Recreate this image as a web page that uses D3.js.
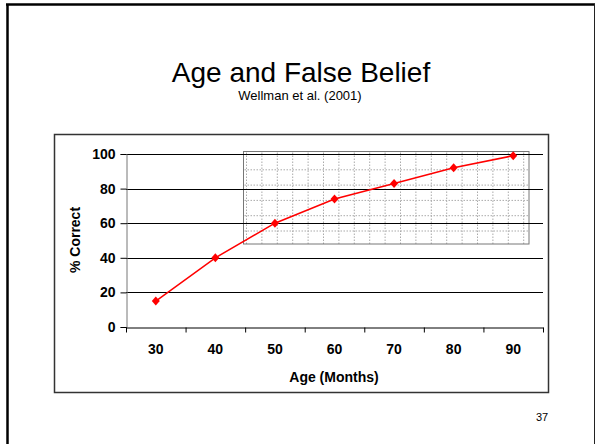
<!DOCTYPE html>
<html>
<head>
<meta charset="utf-8">
<script src="https://cdn.jsdelivr.net/npm/d3@7"></script>
<style>
  body { margin: 0; background: #fff; }
  svg { display: block; font-family: "Liberation Sans", Arial, sans-serif; }
</style>
</head>
<body>
<svg width="596" height="444"></svg>
<script>
// data
var ages = ['30', '40', '50', '60', '70', '80', '90'];
var pctCorrect = [15, 40, 60, 74, 83, 92, 99];
var yTicks = [0, 20, 40, 60, 80, 100];

var svg = d3.select('svg');

// slide frame
svg.append('line').attr('x1', 7.5).attr('y1', 4).attr('x2', 7.5).attr('y2', 444)
  .attr('stroke', '#000').attr('stroke-width', 2.5);
svg.append('line').attr('x1', 6).attr('y1', 4.5).attr('x2', 595).attr('y2', 4.5)
  .attr('stroke', '#000').attr('stroke-width', 2.5);
svg.append('line').attr('x1', 594.5).attr('y1', 4).attr('x2', 594.5).attr('y2', 444)
  .attr('stroke', '#222').attr('stroke-width', 1);

svg.append('text').attr('x', 301).attr('y', 82).attr('text-anchor', 'middle')
  .style('font-size', '28px').text('Age and False Belief');
svg.append('text').attr('x', 300).attr('y', 99.5).attr('text-anchor', 'middle')
  .style('font-size', '13px').text('Wellman et al. (2001)');
svg.append('text').attr('x', 542).attr('y', 421).attr('text-anchor', 'middle')
  .style('font-size', '11px').text('37');

// chart frame
svg.append('rect').attr('x', 54.5).attr('y', 134.5).attr('width', 494).attr('height', 258)
  .attr('fill', 'none').attr('stroke', '#333').attr('stroke-width', 1.5);

var x = d3.scaleBand().domain(ages).range([126, 543]);
var y = d3.scaleLinear().domain([0, 100]).range([327, 154]);

// dotted overlay box
var box = {x0: 243.5, y0: 151.5, x1: 529, y1: 244};
var dots = svg.append('g');
d3.range(box.x0 + 3, box.x1, 15.4).forEach(function(v) {
  dots.append('line').attr('x1', v).attr('x2', v).attr('y1', box.y0 + 1).attr('y2', box.y1)
    .attr('stroke', '#aaa').attr('stroke-dasharray', '1.5,1.5');
});
d3.range(box.y0 + 3, box.y1, 15.3).forEach(function(v) {
  dots.append('line').attr('y1', v).attr('y2', v).attr('x1', box.x0 + 1).attr('x2', box.x1)
    .attr('stroke', '#aaa').attr('stroke-dasharray', '1.5,1.5');
});
svg.append('rect').attr('x', box.x0).attr('y', box.y0)
  .attr('width', box.x1 - box.x0).attr('height', box.y1 - box.y0)
  .attr('fill', 'none').attr('stroke', '#777').attr('stroke-width', 1);

// gridlines
svg.append('g').selectAll('line').data(yTicks.slice(1)).enter().append('line')
  .attr('x1', 126).attr('x2', 543)
  .attr('y1', function(d) { return Math.round(y(d)) + 0.5; })
  .attr('y2', function(d) { return Math.round(y(d)) + 0.5; })
  .attr('stroke', '#000').attr('stroke-width', 1);

// y axis
var yAxis = svg.append('g').attr('transform', 'translate(126.5,0)')
  .call(d3.axisLeft(y).tickValues(yTicks).tickSize(6).tickPadding(5));
yAxis.select('.domain').attr('stroke', '#777');
yAxis.selectAll('text').style('font-size', '14px').style('font-weight', 'bold')
  .style('font-family', '"Liberation Sans", Arial, sans-serif').attr('fill', '#000');

// x axis
var xAxis = svg.append('g').attr('transform', 'translate(0,327.5)')
  .call(d3.axisBottom(x).tickSize(0).tickPadding(17));
xAxis.select('.domain').attr('stroke', '#000');
xAxis.selectAll('text').style('font-size', '14px').style('font-weight', 'bold')
  .style('font-family', '"Liberation Sans", Arial, sans-serif').attr('fill', '#000');
xAxis.selectAll('.sep').data(ages.concat(['end'])).enter().append('line')
  .attr('class', 'sep')
  .attr('x1', function(d, i) { return 126.5 + i * x.bandwidth(); })
  .attr('x2', function(d, i) { return 126.5 + i * x.bandwidth(); })
  .attr('y1', 0).attr('y2', 5).attr('stroke', '#000');

svg.append('text').attr('x', 334).attr('y', 382).attr('text-anchor', 'middle')
  .style('font-size', '14px').style('font-weight', 'bold').text('Age (Months)');
svg.append('text').attr('transform', 'translate(80,240) rotate(-90)').attr('text-anchor', 'middle')
  .style('font-size', '14px').style('font-weight', 'bold').text('% Correct');

// series
var pts = ages.map(function(a, i) { return [x(a) + x.bandwidth() / 2, y(pctCorrect[i])]; });
svg.append('path').datum(pts)
  .attr('d', d3.line())
  .attr('fill', 'none').attr('stroke', '#ff0000').attr('stroke-width', 1.5);
svg.append('g').selectAll('path').data(pts).enter().append('path')
  .attr('d', function(d) {
    return 'M' + d[0] + ',' + (d[1] - 4.5) + 'L' + (d[0] + 4) + ',' + d[1] +
      'L' + d[0] + ',' + (d[1] + 4.5) + 'L' + (d[0] - 4) + ',' + d[1] + 'Z';
  })
  .attr('fill', '#ff0000');
</script>
</body>
</html>
